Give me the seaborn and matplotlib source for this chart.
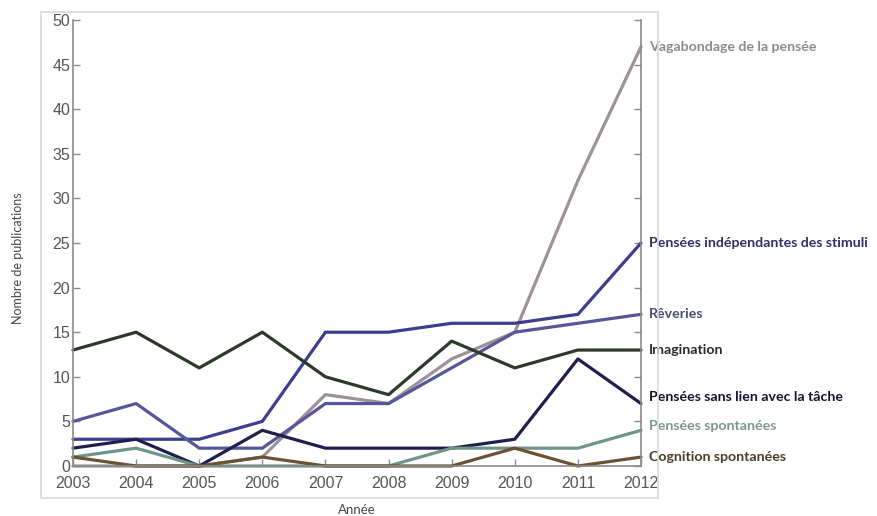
import pandas as pd
import matplotlib.pyplot as plt
import seaborn as sns
from matplotlib.patches import Rectangle

# Données
years = list(range(2003, 2013))
vagabondage = [0, 0, 0, 1, 8, 7, 12, 15, 32, 47]
independantes = [3, 3, 3, 5, 15, 15, 16, 16, 17, 25]
reveries = [5, 7, 2, 2, 7, 7, 11, 15, 16, 17]
imagination = [13, 15, 11, 15, 10, 8, 14, 11, 13, 13]
sans_lien = [2, 3, 0, 4, 2, 2, 2, 3, 12, 7]
spontanees = [1, 2, 0, 0, 0, 0, 2, 2, 2, 4]
cognition = [1, 0, 0, 1, 0, 0, 0, 2, 0, 1]

series_names = ["Vagabondage de la pensée", "Pensées indépendantes des stimuli",
                "Rêveries", "Imagination", "Pensées sans lien avec la tâche",
                "Pensées spontanées", "Cognition spontanées"]
series_values = [vagabondage, independantes, reveries, imagination,
                 sans_lien, spontanees, cognition]

line_colors = ["#9c9297", "#3b3f8e", "#55579a", "#2c3a29", "#1f1f4d", "#6e9586", "#6a5234"]
label_colors = ["#8c8c8c", "#2f2f6a", "#4a4b72", "#2a2a2a", "#14142e", "#7e968b", "#4a3d2b"]
# décalage vertical des étiquettes (points)
label_dy = [0, 0, 0, 0, 5, 3, 0]

rows = []
for name, vals in zip(series_names, series_values):
    for yr, v in zip(years, vals):
        rows.append({"Année": yr, "n": v, "serie": name})
df = pd.DataFrame(rows)

sns.set_style("white")
plt.rcParams['font.family'] = ['Liberation Sans', 'DejaVu Sans']

fig = plt.figure(figsize=(8.78, 5.16), dpi=100)
ax = fig.add_axes([73 / 878, 1 - 466 / 516, (641 - 73) / 878, (466 - 20) / 516])

# cadre gris clair de la capture
fig.patches.append(Rectangle((41 / 878, 1 - 498 / 516), (658 - 41) / 878, (498 - 12) / 516,
                             transform=fig.transFigure, fill=False,
                             edgecolor="#d9d9d9", linewidth=1.2, zorder=0))

sns.lineplot(data=df, x="Année", y="n", hue="serie", hue_order=series_names,
             palette=dict(zip(series_names, line_colors)), legend=False,
             linewidth=2.3, ax=ax, clip_on=False)

ax.set_xlim(2003, 2012)
ax.set_ylim(0, 50)
ax.set_xticks(years)
ax.set_yticks(range(0, 51, 5))
ax.tick_params(direction="in", length=5, width=1, color="#8a8a8a",
               labelcolor="#555555", labelsize=11.5, left=True, bottom=True,
               right=True, pad=2)
ax.tick_params(axis="x", pad=7.5)
for side in ["left", "bottom", "right"]:
    ax.spines[side].set_color("#8a8a8a")
    ax.spines[side].set_linewidth(1.2)
ax.spines["top"].set_visible(False)
ax.set_yticklabels([str(t) for t in range(0, 51, 5)])

ax.set_xlabel("Année", fontsize=9.5, color="#444444", family=["Lato", "DejaVu Sans"], labelpad=9)
ax.set_ylabel("Nombre de publications", fontsize=9, color="#444444",
              family=["Lato", "DejaVu Sans"])
ax.yaxis.set_label_coords(-0.087, 0.466)

for name, vals, col, dy in zip(series_names, series_values, label_colors, label_dy):
    ax.annotate(name, xy=(years[-1], vals[-1]), xytext=(6, dy), textcoords="offset points",
                va="center", ha="left", fontsize=10.2, fontweight="bold", color=col,
                family=["Lato", "DejaVu Sans"], annotation_clip=False)

fig.savefig("out.png", dpi=100)
